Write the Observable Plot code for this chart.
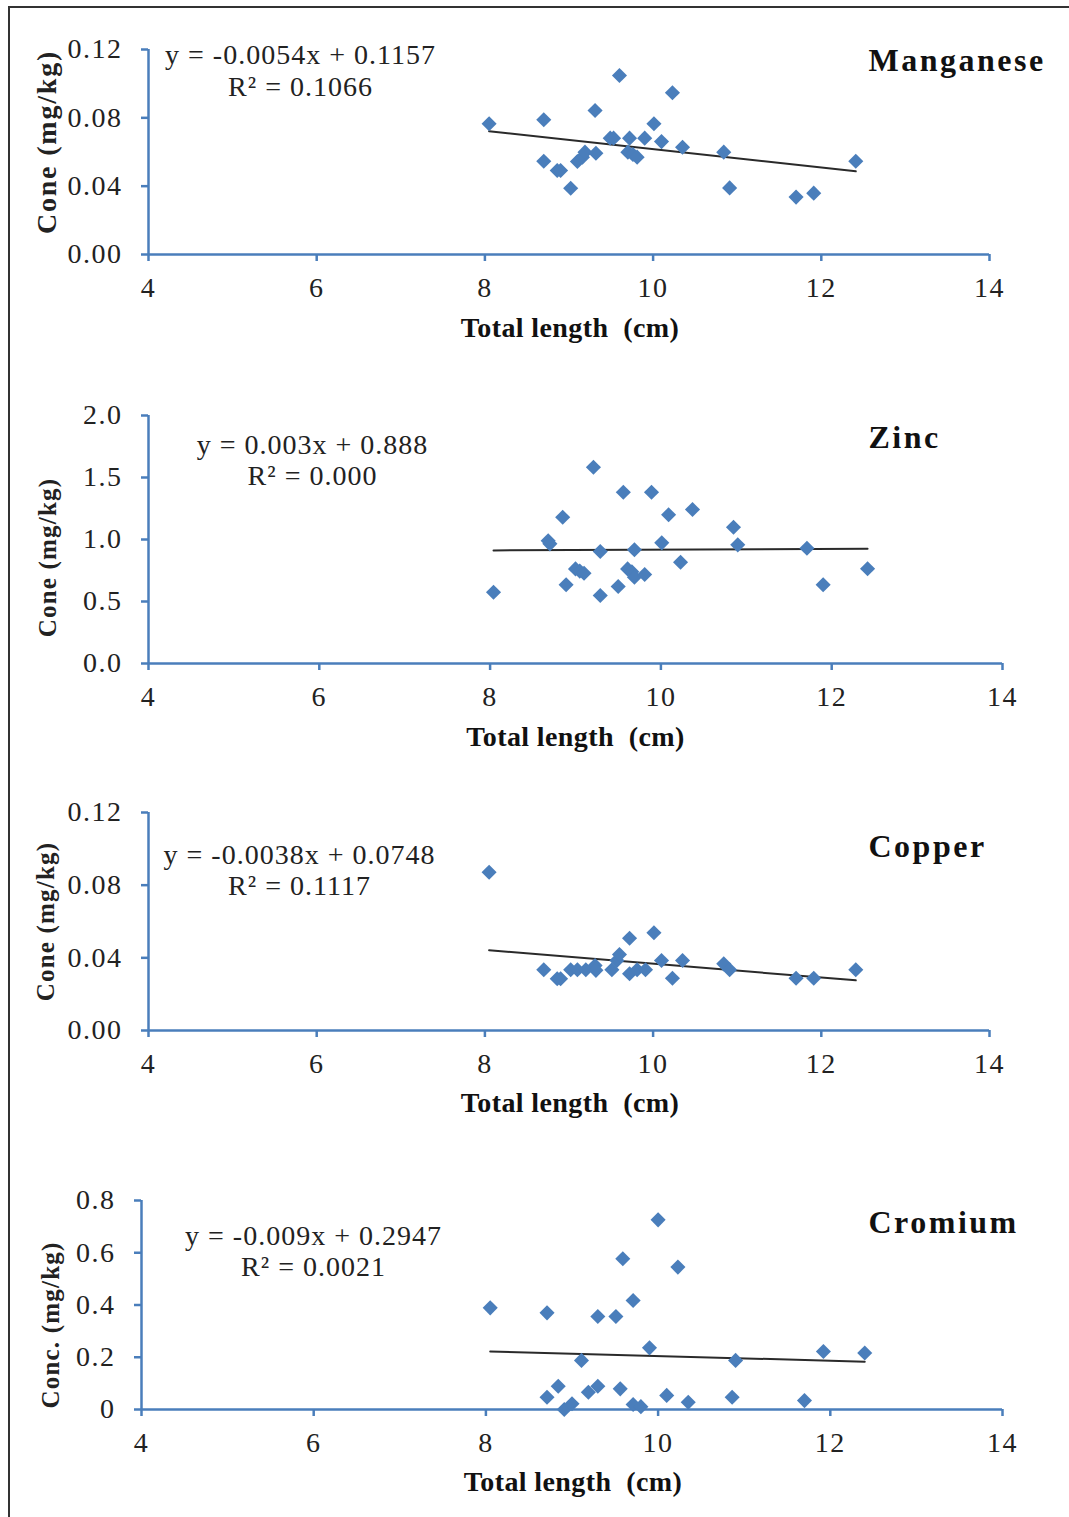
<!DOCTYPE html>
<html>
<head>
<meta charset="utf-8">
<script src="https://cdn.jsdelivr.net/npm/d3@7"></script>
<script src="https://cdn.jsdelivr.net/npm/@observablehq/plot@0.6"></script>
<style>
  html, body { margin: 0; padding: 0; background: white; }
  #wrap { position: relative; width: 1069px; height: 1517px; overflow: hidden; background: white; }
  #border { position: absolute; left: 8px; top: 6px; width: 1070px; height: 1520px; border-left: 2px solid #333; border-top: 2px solid #333; }
  .panel { position: absolute; left: 0; }
  .panel svg { display: block; }
  g[aria-label="x-axis tick label"] text, g[aria-label="y-axis tick label"] text { letter-spacing: 1.5px; }
</style>
</head>
<body>
<div id="wrap"><div id="border"></div></div>
<script>
// ---- Data ----
const xTicks = [4, 6, 8, 10, 12, 14];

// Manganese
const mnLength = [8.05, 8.70, 8.70, 8.86, 8.90, 9.02, 9.10, 9.16, 9.19, 9.31, 9.32, 9.49, 9.53, 9.60, 9.70, 9.72, 9.76, 9.81, 9.90, 10.01, 10.10, 10.23, 10.35, 10.84, 10.91, 11.70, 11.91, 12.41];
const mnConc   = [0.0765, 0.0789, 0.0546, 0.0492, 0.0492, 0.0388, 0.0544, 0.0570, 0.0599, 0.0843, 0.0593, 0.0681, 0.0681, 0.1048, 0.0599, 0.0681, 0.0585, 0.0570, 0.0681, 0.0765, 0.0661, 0.0947, 0.0628, 0.0599, 0.0390, 0.0336, 0.0359, 0.0546];
const mnTrendX = [8.05, 12.41];
const mnTrendY = [0.0722, 0.0487];
const mnTicks = [0, 0.04, 0.08, 0.12];

// Zinc
const znLength = [8.04, 8.68, 8.70, 8.85, 8.89, 9.00, 9.05, 9.10, 9.21, 9.29, 9.29, 9.50, 9.56, 9.61, 9.66, 9.69, 9.69, 9.81, 9.89, 10.01, 10.09, 10.23, 10.37, 10.85, 10.90, 11.71, 11.90, 12.42];
const znConc   = [0.575, 0.99, 0.965, 1.18, 0.635, 0.763, 0.745, 0.728, 1.583, 0.903, 0.548, 0.621, 1.381, 0.763, 0.74, 0.917, 0.696, 0.718, 1.381, 0.973, 1.199, 0.817, 1.242, 1.099, 0.957, 0.930, 0.635, 0.764];
const znTrendX = [8.04, 12.42];
const znTrendY = [0.912, 0.925];
const znTicks = [0, 0.5, 1.0, 1.5, 2.0];

// Copper
const cuLength = [8.05, 8.70, 8.86, 8.90, 9.02, 9.10, 9.20, 9.31, 9.32, 9.51, 9.57, 9.60, 9.72, 9.72, 9.81, 9.91, 10.01, 10.10, 10.23, 10.35, 10.84, 10.91, 11.70, 11.91, 12.41];
const cuConc   = [0.0871, 0.0334, 0.0285, 0.0285, 0.0334, 0.0334, 0.0334, 0.0358, 0.0331, 0.0334, 0.0385, 0.0418, 0.0508, 0.0312, 0.0334, 0.0334, 0.0538, 0.0385, 0.0288, 0.0385, 0.0367, 0.0334, 0.0288, 0.0288, 0.0334];
const cuTrendX = [8.05, 12.41];
const cuTrendY = [0.0442, 0.0276];
const cuTicks = [0, 0.04, 0.08, 0.12];

// Cromium
const crLength = [8.05, 8.71, 8.71, 8.84, 8.91, 9.00, 9.11, 9.19, 9.30, 9.30, 9.51, 9.56, 9.59, 9.71, 9.71, 9.80, 9.90, 10.00, 10.10, 10.23, 10.35, 10.86, 10.90, 11.70, 11.92, 12.40];
const crConc   = [0.389, 0.370, 0.047, 0.089, 0.0, 0.022, 0.188, 0.066, 0.089, 0.356, 0.356, 0.079, 0.577, 0.417, 0.019, 0.011, 0.236, 0.726, 0.054, 0.545, 0.028, 0.047, 0.188, 0.034, 0.222, 0.216];
const crTrendX = [8.05, 12.40];
const crTrendY = [0.2222, 0.1831];
const crTicks = [0, 0.2, 0.4, 0.6, 0.8];

const blue = "#4a7ebb";
const serif = "'Liberation Serif', 'Times New Roman', serif";

function panel(cfg) {
  const pts = cfg.xs.map((x, i) => ({x, y: cfg.ys[i]}));
  const trend = cfg.tx.map((x, i) => ({x, y: cfg.ty[i]}));
  const one = (t) => [t];
  const svg = Plot.plot({
    width: 1069,
    height: cfg.height,
    marginTop: cfg.mt, marginBottom: cfg.mb, marginLeft: cfg.ml, marginRight: cfg.mr,
    style: {fontFamily: serif, fontSize: "28px", color: "#222", background: "transparent", overflow: "visible"},
    x: {domain: [4, 14]},
    y: {domain: cfg.ydomain},
    marks: [
      Plot.axisX({ticks: xTicks, tickSize: 7, tickPadding: 16, stroke: blue, strokeWidth: 2.5, fill: "#222", label: null, tickFormat: d => String(d)}),
      Plot.axisY({ticks: cfg.yticks, tickSize: 7, tickPadding: 19, stroke: blue, strokeWidth: 2.5, fill: "#222", label: null, tickFormat: cfg.fmt}),
      Plot.ruleY([cfg.ydomain[0]], {stroke: blue, strokeWidth: 2.5}),
      Plot.ruleX([4], {stroke: blue, strokeWidth: 2.5}),
      Plot.line(trend, {x: "x", y: "y", stroke: "#2a2a2a", strokeWidth: 2}),
      Plot.dot(pts, {x: "x", y: "y", symbol: "diamond2", r: 6.8, fill: blue, stroke: "none"}),
      Plot.text(one(cfg.eq1), {text: d => d, frameAnchor: "top-left", dx: cfg.eqdx, dy: cfg.eqdy1, textAnchor: "middle", lineAnchor: "middle", fontSize: 28, fill: "#222"}),
      Plot.text(one(cfg.eq2), {text: d => d, frameAnchor: "top-left", dx: cfg.eqdx, dy: cfg.eqdy2, textAnchor: "middle", lineAnchor: "middle", fontSize: 28, fill: "#222"}),
      Plot.text(one(cfg.title), {text: d => d, frameAnchor: "top-left", dx: cfg.tdx, dy: cfg.tdy, textAnchor: "start", lineAnchor: "middle", fontSize: 32, fontWeight: "bold", fill: "#111"}),
      Plot.text(one(cfg.ylabel), {text: d => d, frameAnchor: "left", dx: cfg.ydx, dy: cfg.ydy, rotate: -90, textAnchor: "middle", lineAnchor: "middle", fontSize: cfg.yfs, fontWeight: "bold", fill: "#222"}),
      Plot.text(one("Total length  (cm)"), {text: d => d, frameAnchor: "bottom", dx: cfg.xdx, dy: cfg.xdy, textAnchor: "middle", lineAnchor: "middle", fontSize: 28, fontWeight: "bold", fill: "#111"})
    ]
  });
  // letter spacing to match the wider glyph set of the reference
  d3.select(svg).selectAll("text").each(function() {
    const t = this.textContent;
    let ls = null;
    if (t === cfg.eq1 || t === cfg.eq2) ls = "1px";
    else if (t === cfg.title) ls = "2.5px";
    else if (t === cfg.ylabel) ls = cfg.yls;
    else if (t.startsWith("Total length")) ls = "0.4px";
    if (ls) this.style.letterSpacing = ls;
  });
  return svg;
}

const panels = [
  {top: 0, height: 360, mt: 49, mb: 106, ml: 148, mr: 80, ydomain: [0, 0.12], yticks: mnTicks, fmt: d => d.toFixed(2),
   xs: mnLength, ys: mnConc, tx: mnTrendX, ty: mnTrendY,
   eq1: "y = -0.0054x + 0.1157", eq2: "R² = 0.1066", eqdx: 152, eqdy1: 6, eqdy2: 38,
   title: "Manganese", tdx: 720, tdy: 11, ylabel: "Cone (mg/kg)", ydx: -101, ydy: -10, yfs: 28, yls: "1.8px", xdx: 1, xdy: 74},
  {top: 360, height: 400, mt: 55, mb: 97, ml: 148, mr: 67, ydomain: [0, 2.0], yticks: znTicks, fmt: d => d.toFixed(1),
   xs: znLength, ys: znConc, tx: znTrendX, ty: znTrendY,
   eq1: "y = 0.003x + 0.888", eq2: "R² = 0.000", eqdx: 164, eqdy1: 30, eqdy2: 61,
   title: "Zinc", tdx: 720, tdy: 22, ylabel: "Cone (mg/kg)", ydx: -101, ydy: 18, yfs: 25, yls: "1.2px", xdx: 0, xdy: 74},
  {top: 760, height: 380, mt: 52, mb: 110, ml: 148, mr: 80, ydomain: [0, 0.12], yticks: cuTicks, fmt: d => d.toFixed(2),
   xs: cuLength, ys: cuConc, tx: cuTrendX, ty: cuTrendY,
   eq1: "y = -0.0038x + 0.0748", eq2: "R² = 0.1117", eqdx: 151, eqdy1: 43, eqdy2: 74,
   title: "Copper", tdx: 720, tdy: 34, ylabel: "Cone (mg/kg)", ydx: -103, ydy: 0, yfs: 25, yls: "1.2px", xdx: 1, xdy: 73},
  {top: 1140, height: 377, mt: 60, mb: 108, ml: 141, mr: 67, ydomain: [0, 0.8], yticks: crTicks, fmt: d => d === 0 ? "0" : d.toFixed(1),
   xs: crLength, ys: crConc, tx: crTrendX, ty: crTrendY,
   eq1: "y = -0.009x + 0.2947", eq2: "R² = 0.0021", eqdx: 172, eqdy1: 36, eqdy2: 67,
   title: "Cromium", tdx: 727, tdy: 22, ylabel: "Conc. (mg/kg)", ydx: -91, ydy: 20, yfs: 25, yls: "1.2px", xdx: 1, xdy: 73}
];

const wrap = document.getElementById("wrap");
for (const p of panels) {
  const div = document.createElement("div");
  div.className = "panel";
  div.style.top = p.top + "px";
  div.appendChild(panel(p));
  wrap.appendChild(div);
}
</script>
</body>
</html>
